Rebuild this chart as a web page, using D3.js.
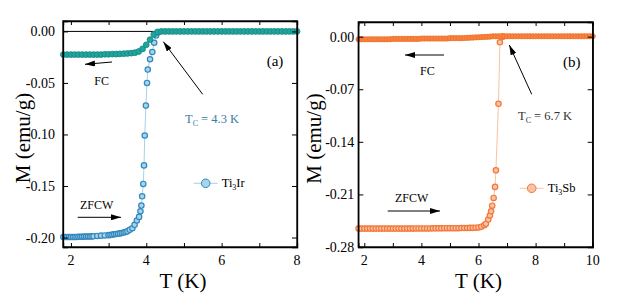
<!DOCTYPE html>
<html>
<head>
<meta charset="utf-8">
<style>
  body { margin: 0; background: #fff; }
  svg text { font-family: "Times New Roman", "Liberation Serif", "DejaVu Serif", serif; }
</style>
</head>
<body>
<svg width="629" height="298"></svg>
<script src="https://d3js.org/d3.v7.min.js"></script>
<script>
// ---- Ti3Ir (panel a) ----
var irFcT = [1.8,1.9,2.0,2.1,2.2,2.3,2.4,2.5,2.6,2.7,2.8,2.9,3.0,3.1,3.2,3.3,3.4,3.5,3.6,3.7,
  3.8,3.9,4.0,4.1,4.2,4.3,4.4,4.5,4.6,4.7,4.8,4.9,5.0,5.1,5.2,5.3,5.4,5.5,5.6,5.7,5.8,5.9,
  6.0,6.1,6.2,6.3,6.4,6.5,6.6,6.7,6.8,6.9,7.0,7.1,7.2,7.3,7.4,7.5,7.6,7.7,7.8,7.9,8.0];
var irFcM = [-0.0225,-0.0225,-0.0225,-0.0225,-0.0225,-0.0225,-0.0225,-0.0225,-0.0225,-0.0225,
  -0.0225,-0.0222,-0.0222,-0.022,-0.022,-0.0218,-0.0216,-0.0214,-0.0211,-0.0206,
  -0.0195,-0.017,-0.013,-0.008,-0.003,-0.0005,0,0,0,0,0,0,0,0,0,0,0,0,0,0,0,0,
  0,0,0,0,0,0,0,0,0,0,0,0,0,0,0,0,0,0,0,0,0];
var irZfcT = [1.8,1.85,1.9,1.95,2.0,2.05,2.1,2.15,2.2,2.25,2.3,2.35,2.4,2.45,2.5,2.55,2.6,
  2.7,2.8,2.9,3.0,3.05,3.1,3.15,3.2,3.25,3.3,3.35,3.4,3.45,3.5,3.56,3.63,
  3.69,3.75,3.81,3.845,3.87,3.89,3.92,3.94,3.96,3.99,4.02,4.04,4.1,4.16,4.21,4.26,4.31];
var irZfcM = [-0.1995,-0.1995,-0.1995,-0.1995,-0.1995,-0.1995,-0.1995,-0.1995,-0.1993,-0.1993,
  -0.1992,-0.1991,-0.199,-0.199,-0.199,-0.1989,-0.1988,-0.1985,-0.1982,-0.198,-0.1977,
  -0.1975,-0.1972,-0.1969,-0.1966,-0.1963,-0.196,-0.1956,-0.1952,-0.1947,-0.194,-0.1925,-0.191,
  -0.1877,-0.1835,-0.18,-0.1745,-0.169,-0.16,-0.148,-0.13,-0.101,-0.072,-0.05,-0.037,
  -0.027,-0.02,-0.011,-0.004,-0.001];
var irYTicks = [0, -0.05, -0.10, -0.15, -0.20];
var irYLabels = ["0.00", "-0.05", "-0.10", "-0.15", "-0.20"];
var irXTicks = [2, 4, 6, 8];

// ---- Ti3Sb (panel b) ----
var sbFcT = [1.8,1.9,2.0,2.1,2.2,2.3,2.4,2.5,2.6,2.7,2.8,2.9,3.0,3.1,3.2,3.3,3.4,3.5,3.6,3.7,
  3.8,3.9,4.0,4.1,4.2,4.3,4.4,4.5,4.6,4.7,4.8,4.9,5.0,5.1,5.2,5.3,5.4,5.5,5.6,5.7,5.8,5.9,
  6.0,6.1,6.2,6.3,6.4,6.5,6.6,6.7,6.8,6.9,7.0,7.1,7.2,7.3,7.4,7.5,7.6,7.7,7.8,7.9,
  8.0,8.1,8.2,8.3,8.4,8.5,8.6,8.7,8.8,8.9,9.0,9.1,9.2,9.3,9.4,9.5,9.6,9.7,9.8,9.9,10.0];
var sbFcM = [-0.0035,-0.0035,-0.0035,-0.0035,-0.0035,-0.0035,-0.0035,-0.0035,-0.0035,-0.0035,
  -0.0035,-0.0035,-0.003,-0.003,-0.003,-0.003,-0.003,-0.003,-0.003,-0.003,-0.003,-0.003,
  -0.0025,-0.0025,-0.0025,-0.0025,-0.0025,-0.0025,-0.0025,-0.0025,-0.0025,-0.0025,
  -0.002,-0.002,-0.002,-0.002,-0.002,-0.0018,-0.0016,-0.0014,-0.0012,-0.001,
  -0.0008,-0.0006,-0.0004,-0.0002,0,0.0005,0.0005,0.0005,0.0005,0.0005,0.0005,0.0005,
  0.0005,0.0005,0.0005,0.0005,0.0005,0.0005,0.0005,0.0005,0.0005,0.0005,0.0005,0.0005,
  0.0005,0.0005,0.0005,0.0005,0.0005,0.0005,0.0005,0.0005,0.0005,0.0005,0.0005,0.0005,
  0.0005,0.0005,0.0005,0.0005,0.0005];
var sbZfcT = [1.8,1.9,2.0,2.1,2.2,2.3,2.4,2.5,2.6,2.7,2.8,2.9,3.0,3.1,3.2,3.3,3.4,3.5,3.6,3.7,
  3.8,3.9,4.0,4.1,4.2,4.3,4.4,4.5,4.6,4.7,4.8,4.9,5.0,5.1,5.2,5.3,5.4,5.5,5.6,5.7,5.8,5.9,
  6.0,6.1,6.2,6.26,6.34,6.4,6.44,6.48,6.53,6.58,6.61,6.7,6.75,6.85];
var sbZfcM = [-0.2555,-0.2555,-0.2555,-0.2555,-0.2555,-0.2555,-0.2555,-0.2555,-0.2555,-0.2555,
  -0.2555,-0.2555,-0.2555,-0.2555,-0.2555,-0.2555,-0.2555,-0.2555,-0.2555,-0.2555,
  -0.2553,-0.2553,-0.2553,-0.2553,-0.2553,-0.2553,-0.2552,-0.2552,-0.2552,-0.2552,
  -0.255,-0.255,-0.255,-0.255,-0.255,-0.255,-0.2548,-0.2548,-0.2547,-0.2546,-0.2545,-0.2543,
  -0.254,-0.253,-0.251,-0.249,-0.2435,-0.238,-0.2325,-0.225,-0.2147,-0.2,-0.178,-0.0894,
  -0.0075,0];
var sbYTicks = [0, -0.07, -0.14, -0.21, -0.28];
var sbYLabels = ["0.00", "-0.07", "-0.14", "-0.21", "-0.28"];
var sbXTicks = [2, 4, 6, 8, 10];

var svg = d3.select("svg")
    .attr("font-family", "'Times New Roman', 'Liberation Serif', serif");

var defs = svg.append("defs");
defs.append("marker")
    .attr("id", "head")
    .attr("viewBox", "0 0 10 6")
    .attr("refX", 10).attr("refY", 3)
    .attr("markerWidth", 10).attr("markerHeight", 6)
    .attr("markerUnits", "userSpaceOnUse")
    .attr("orient", "auto")
  .append("path")
    .attr("d", "M0,0 L10,3 L0,6 Z")
    .attr("fill", "#000");

function zip(t, m) {
    return t.map(function(d, i) { return [d, m[i]]; });
}

function drawPanel(c) {
    var x = d3.scaleLinear().domain(c.xDomain).range([c.left, c.right]);
    var y = d3.scaleLinear().domain(c.yDomain).range([c.bottom, c.top]);
    var g = svg.append("g");

    // zero line
    if (c.zeroLine) {
        g.append("line")
            .attr("x1", c.left).attr("x2", c.right)
            .attr("y1", y(0)).attr("y2", y(0))
            .attr("stroke", "#000").attr("stroke-width", 1);
    }

    // ZFC curve: thin light line + circles
    var zfc = zip(c.zfcT, c.zfcM);
    g.append("path")
        .datum(zfc)
        .attr("fill", "none")
        .attr("stroke", c.zfcLine)
        .attr("stroke-width", 1)
        .attr("d", d3.line().x(function(d) { return x(d[0]); }).y(function(d) { return y(d[1]); }));
    g.append("g").selectAll("circle")
        .data(zfc)
        .enter().append("circle")
        .attr("cx", function(d) { return x(d[0]); })
        .attr("cy", function(d) { return y(d[1]); })
        .attr("r", 2.7)
        .attr("fill", c.zfcFill)
        .attr("stroke", c.zfcStroke)
        .attr("stroke-width", 1.2);

    // FC curve: dense circles
    var fc = zip(c.fcT, c.fcM);
    g.append("g").selectAll("circle")
        .data(fc)
        .enter().append("circle")
        .attr("cx", function(d) { return x(d[0]); })
        .attr("cy", function(d) { return y(d[1]); })
        .attr("r", c.fcR)
        .attr("fill", c.fcFill)
        .attr("stroke", c.fcStroke)
        .attr("stroke-width", 0.9);

    // axes (ticks inside)
    var xMinor = d3.range(Math.ceil(c.xDomain[0]), c.xDomain[1] + 0.01, 1);
    g.append("g")
        .attr("transform", "translate(0," + c.bottom + ")")
        .call(d3.axisTop(x).tickValues(xMinor).tickSize(4).tickFormat(""));
    g.append("g")
        .attr("transform", "translate(0," + c.top + ")")
        .call(d3.axisBottom(x).tickValues(xMinor).tickSize(4).tickFormat(""));
    g.append("g")
        .attr("transform", "translate(" + c.left + ",0)")
        .call(d3.axisRight(y).tickValues(c.yTicks).tickSize(5).tickFormat(""));
    g.append("g")
        .attr("transform", "translate(" + c.right + ",0)")
        .call(d3.axisLeft(y).tickValues(c.yTicks).tickSize(5).tickFormat(""));
    g.selectAll(".domain").attr("stroke-width", 1.3);

    g.append("rect")
        .attr("x", c.left).attr("y", c.top)
        .attr("width", c.right - c.left).attr("height", c.bottom - c.top)
        .attr("fill", "none").attr("stroke", "#000").attr("stroke-width", 1.3);

    // tick labels
    g.selectAll(".xl").data(c.xTicks).enter().append("text")
        .attr("x", function(d) { return x(d); })
        .attr("y", c.bottom + 18)
        .attr("text-anchor", "middle")
        .attr("font-size", 14)
        .text(function(d) { return d; });
    g.selectAll(".yl").data(c.yTicks).enter().append("text")
        .attr("x", c.left - c.yLabelGap)
        .attr("y", function(d) { return y(d) + 5; })
        .attr("text-anchor", "end")
        .attr("font-size", 14)
        .text(function(d, i) { return c.yLabels[i]; });

    // axis titles
    g.append("text")
        .attr("x", (c.left + c.right) / 2 + 3)
        .attr("y", 288)
        .attr("text-anchor", "middle")
        .attr("font-size", 21)
        .text("T (K)");
    g.append("text")
        .attr("transform", "translate(" + c.yTitleX + "," + ((c.top + c.bottom) / 2 + 4) + ") rotate(-90)")
        .attr("text-anchor", "middle")
        .attr("font-size", 21)
        .text("M (emu/g)");

    // arrows
    c.arrows.forEach(function(a) {
        g.append("line")
            .attr("x1", a[0]).attr("y1", a[1]).attr("x2", a[2]).attr("y2", a[3])
            .attr("stroke", "#000").attr("stroke-width", 1)
            .attr("marker-end", "url(#head)");
    });

    // annotations
    c.notes.forEach(function(n) {
        g.append("text")
            .attr("x", n.x).attr("y", n.y)
            .attr("text-anchor", "middle")
            .attr("font-size", n.size)
            .text(n.text);
    });

    var tc = g.append("text")
        .attr("x", c.tcX).attr("y", c.tcY)
        .attr("font-size", 12.5)
        .attr("fill", c.tcColor);
    tc.append("tspan").text("T");
    tc.append("tspan").attr("font-size", 8).attr("dy", 3).text("C");
    tc.append("tspan").attr("dy", -3).text(" = " + c.tcValue + " K");

    // legend
    g.append("line")
        .attr("x1", c.legX - 12).attr("x2", c.legX + 12)
        .attr("y1", c.legY).attr("y2", c.legY)
        .attr("stroke", c.zfcLine).attr("stroke-width", 1);
    g.append("circle")
        .attr("cx", c.legX).attr("cy", c.legY).attr("r", 4.3)
        .attr("fill", c.zfcFill).attr("stroke", c.zfcStroke).attr("stroke-width", 1);
    var lt = g.append("text")
        .attr("x", c.legX + 16).attr("y", c.legY + 4)
        .attr("font-size", 12.5);
    lt.append("tspan").text("Ti");
    lt.append("tspan").attr("font-size", 8).attr("dy", 3).text("3");
    lt.append("tspan").attr("dy", -3).text(c.legEnd);
}

drawPanel({
    left: 63, right: 297, top: 21, bottom: 247,
    xDomain: [1.79, 8], yDomain: [-0.2092, 0.0101],
    fcT: irFcT, fcM: irFcM, zfcT: irZfcT, zfcM: irZfcM,
    fcFill: "#22a49d", fcStroke: "#128a84", fcR: 2.9,
    zfcFill: "#a3d5ee", zfcStroke: "#3487ba", zfcLine: "#a6d2ea",
    zeroLine: true,
    yTicks: irYTicks, yLabels: irYLabels, xTicks: irXTicks,
    yLabelGap: 8, yTitleX: 30,
    arrows: [[112, 62, 85, 64.3], [202.7, 94.3, 163.3, 41.7], [77.7, 217.3, 121, 217.3]],
    notes: [
        {x: 101.7, y: 85, text: "FC", size: 12},
        {x: 275, y: 66, text: "(a)", size: 15},
        {x: 96.7, y: 209, text: "ZFCW", size: 12}
    ],
    tcX: 185, tcY: 123, tcValue: "4.3", tcColor: "#3b7ca5",
    legX: 205.7, legY: 183.3, legEnd: "Ir"
});

drawPanel({
    left: 358.3, right: 592.7, top: 22, bottom: 247,
    xDomain: [1.79, 10], yDomain: [-0.28, 0.0195],
    fcT: sbFcT, fcM: sbFcM, zfcT: sbZfcT, zfcM: sbZfcM,
    fcFill: "#f6843f", fcStroke: "#f06f2c", fcR: 2.6,
    zfcFill: "#f9c2a2", zfcStroke: "#f2773a", zfcLine: "#f9c2a2",
    zeroLine: false,
    yTicks: sbYTicks, yLabels: sbYLabels, xTicks: sbXTicks,
    yLabelGap: 4, yTitleX: 321,
    arrows: [[444, 55, 405, 55], [531.7, 94.3, 509.3, 45], [387.7, 211, 440, 211]],
    notes: [
        {x: 427.3, y: 75, text: "FC", size: 12},
        {x: 571.7, y: 67, text: "(b)", size: 15},
        {x: 411.7, y: 202, text: "ZFCW", size: 12}
    ],
    tcX: 518, tcY: 120, tcValue: "6.7", tcColor: "#333",
    legX: 531.7, legY: 188.3, legEnd: "Sb"
});
</script>
</body>
</html>
